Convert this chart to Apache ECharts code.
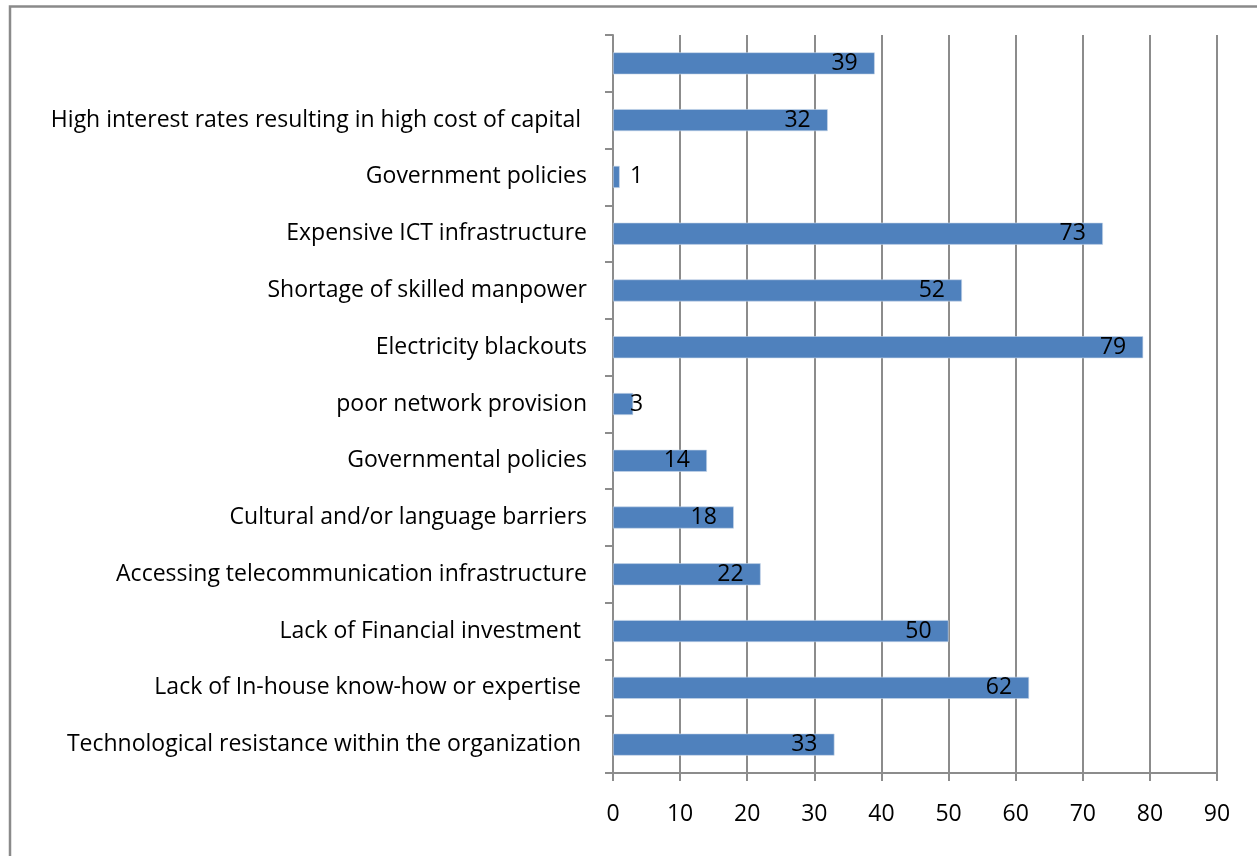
<!DOCTYPE html>
<html>
<head>
<meta charset="utf-8">
<script src="https://cdn.jsdelivr.net/npm/echarts@6/dist/echarts.min.js"></script>
<style>
  html, body { margin: 0; padding: 0; background: #fff; }
  #chart { width: 1257px; height: 856px; }
</style>
</head>
<body>
<div id="chart"></div>
<script>
// Categories listed bottom to top (ECharts category axes run upward)
const categories = [
  'Technological resistance within the organization ',
  'Lack of In-house know-how or expertise ',
  'Lack of Financial investment ',
  'Accessing telecommunication infrastructure',
  'Cultural and/or language barriers',
  'Governmental policies',
  'poor network provision',
  'Electricity blackouts',
  'Shortage of skilled manpower',
  'Expensive ICT infrastructure',
  'Government policies',
  'High interest rates resulting in high cost of capital ',
  ''
];
const values = [33, 62, 50, 22, 18, 14, 3, 79, 52, 73, 1, 32, 39];
const xTicks = [0, 10, 20, 30, 40, 50, 60, 70, 80, 90];

const FONT = '"Open Sans", sans-serif';
const GRID_GREY = '#8c8c8c';

const chart = echarts.init(document.getElementById('chart'), null, { renderer: 'canvas' });

// Short bars carry their label just past the axis instead of inside the bar end
const barData = values.map(v => ({
  value: v,
  label: v < 5 ? { position: 'insideLeft', distance: 17 } : { position: 'insideRight', distance: 17 }
}));

chart.setOption({
  animation: false,
  backgroundColor: '#ffffff',
  graphic: [{
    type: 'rect',
    shape: { x: 10, y: 6.5, width: 1400, height: 1000 },
    style: { fill: 'none', stroke: '#8a8a8a', lineWidth: 2.5 },
    silent: true
  }],
  grid: { left: 613, right: 40, top: 35, bottom: 83, containLabel: false },
  xAxis: {
    type: 'value',
    min: xTicks[0],
    max: xTicks[xTicks.length - 1],
    interval: 10,
    axisLine: { show: true, lineStyle: { color: GRID_GREY, width: 2 } },
    axisTick: { show: true, length: 8, lineStyle: { color: GRID_GREY, width: 2 } },
    splitLine: { show: true, lineStyle: { color: GRID_GREY, width: 2 } },
    axisLabel: { color: '#000', fontSize: 23, fontFamily: FONT, margin: 30 }
  },
  yAxis: {
    type: 'category',
    data: categories,
    axisLine: { show: true, lineStyle: { color: GRID_GREY, width: 2 } },
    axisTick: { show: true, length: 8, inside: false, lineStyle: { color: GRID_GREY, width: 2 } },
    axisLabel: { color: '#000', fontSize: 23, fontFamily: FONT, margin: 26, padding: [4, 0, 0, 0] }
  },
  series: [{
    type: 'bar',
    data: barData,
    barWidth: 22,
    itemStyle: { color: '#4f81bd', borderColor: '#c9d7ea', borderWidth: 0.6 },
    label: {
      show: true,
      color: '#000',
      fontSize: 23,
      fontFamily: FONT,
      padding: [3, 0, 0, 0]
    }
  }]
});
</script>
</body>
</html>
